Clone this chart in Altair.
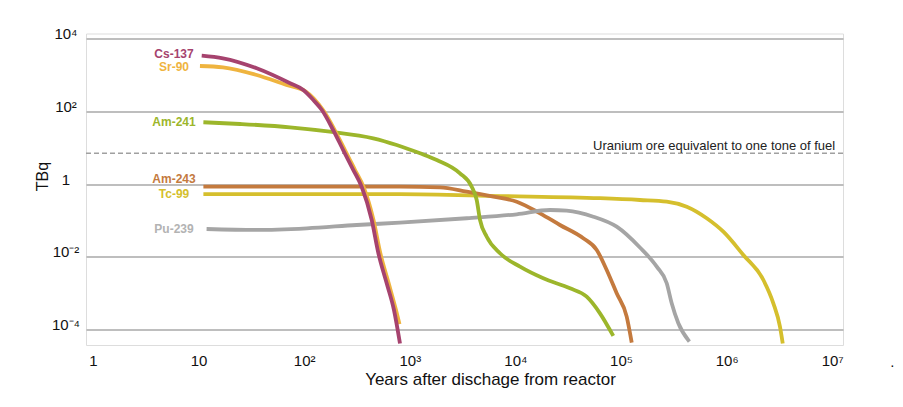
import json
import altair as alt
import pandas as pd

# ---------------- data ----------------
cs137_years = [10.7, 17, 35.5, 73.5, 98, 122, 147, 188, 234, 292, 350, 436, 504, 604, 708, 807]
cs137_tbq = [3450, 2920, 1550, 600, 392, 208, 110, 31, 8.7, 2.45, 0.85, 0.103, 0.0125, 0.00186, 0.000342, 0.000041]

sr90_years = [10.3, 17, 35.5, 68, 102, 151, 243, 303, 364, 453, 526, 631, 740, 798]
sr90_tbq = [1795, 1650, 1015, 538, 368, 110, 8.7, 2.45, 0.85, 0.103, 0.0125, 0.00186, 0.000342, 0.00014]

am241_years = [11.1, 24.7, 73.4, 175, 451, 751, 1250, 1800, 2985, 3855, 4300, 4625, 5350, 7140,
               11060, 18370, 32900, 47300, 63200, 84500]
am241_tbq = [50.6, 45.4, 36.8, 27.9, 18.3, 12.0, 7.08, 4.63, 1.99, 0.851, 0.366, 0.103, 0.0357, 0.0125,
             0.00533, 0.00255, 0.00135, 0.000796, 0.000277, 0.000066]

am243_years = [11.1, 100, 807, 1930, 3460, 6180, 10290, 17100, 26400, 43900, 58900, 73200, 91000, 113200, 126300]
am243_tbq = [0.851, 0.851, 0.851, 0.82, 0.62, 0.451, 0.329, 0.157, 0.075, 0.0323, 0.0154, 0.00433, 0.000986,
             0.000224, 0.000043]

tc99_years = [11.1, 807, 7140, 63200, 151000, 271000, 419000, 648000, 931000, 1440000, 2230000, 2770000,
              3200000, 3400000]
tc99_tbq = [0.53, 0.53, 0.47, 0.41, 0.366, 0.329, 0.239, 0.115, 0.049, 0.0112, 0.00229, 0.000522, 0.000119,
            0.000041]

pu239_years = [11.9, 35.5, 106, 314, 807, 3460, 10290, 21300, 30600, 54700, 91000, 151000, 218000, 271000,
               302000, 349000, 444000]
pu239_tbq = [0.0582, 0.0547, 0.0608, 0.075, 0.0868, 0.115, 0.148, 0.194, 0.186, 0.127, 0.0673, 0.018,
             0.00533, 0.00186, 0.000523, 0.000147, 0.000046]

ore_level = [7.1]
ore_label = ["Uranium ore equivalent to one tone of fuel"]

x_tick_values = [1, 10, 100, 1000, 1e4, 1e5, 1e6, 1e7]
x_tick_labels = ["1", "10", "10²", "10³", "10⁴", "10⁵", "10⁶", "10⁷"]
y_tick_values = [1e-4, 1e-2, 1, 1e2, 1e4]
y_tick_labels = ["10⁻⁴", "10⁻²", "1", "10²", "10⁴"]

# drawing order: bottom -> top
isotopes = ["Tc-99", "Am-243", "Pu-239", "Am-241", "Sr-90", "Cs-137"]
series = {
    "Cs-137": (cs137_years, cs137_tbq),
    "Sr-90": (sr90_years, sr90_tbq),
    "Am-241": (am241_years, am241_tbq),
    "Am-243": (am243_years, am243_tbq),
    "Tc-99": (tc99_years, tc99_tbq),
    "Pu-239": (pu239_years, pu239_tbq),
}
line_colors = {
    "Cs-137": "#a6436e",
    "Sr-90": "#efb43f",
    "Am-241": "#9cb62b",
    "Am-243": "#c47a3e",
    "Tc-99": "#d5bf2d",
    "Pu-239": "#a5a5a5",
}
label_colors = dict(line_colors, **{"Pu-239": "#b3b3b3"})
label_dy = {"Cs-137": -1.5, "Sr-90": 1.5, "Am-243": -7.5}

rows = []
for name in isotopes:
    yrs, vals = series[name]
    for t, v in zip(yrs, vals):
        rows.append({"isotope": name, "years": t, "tbq": v})
df = pd.DataFrame(rows)

first = pd.DataFrame([{"isotope": n, "tbq": series[n][1][0]} for n in isotopes])

# ---------------- scales & axes ----------------
FONT = "Arial, Liberation Sans, sans-serif"
x_scale = alt.Scale(type="log", domain=[0.8584, 1.265e7], nice=False)
y_scale = alt.Scale(type="log", domain=[3.715e-5, 1.409e4], nice=False)

x_expr = json.dumps(x_tick_labels, ensure_ascii=False) + "[round(log(datum.value)/LN10)]"
y_expr = json.dumps(y_tick_labels, ensure_ascii=False) + "[round(log(datum.value)/LN10/2)+2]"

x_axis = alt.Axis(
    values=x_tick_values, labelExpr=x_expr, grid=False, domain=False, ticks=False, tickSize=0,
    labelFont=FONT, labelFontSize=15, labelColor="#111111", labelPadding=8,
    labelAlign="center", labelBaseline="top", labelFlush=False,
    title="Years after dischage from reactor", titleFont=FONT, titleFontSize=17,
    titleFontWeight="normal", titleColor="#111111", titleX=404, titleY=39,
    titleAlign="center", titleBaseline="alphabetic",
)
y_axis = alt.Axis(
    values=y_tick_values, labelExpr=y_expr, grid=True, gridColor="#a9a9a9", gridWidth=1.5,
    domain=False, ticks=False, tickSize=0,
    labelFont=FONT, labelFontSize=15, labelColor="#111111", labelPadding=20.5,
    labelAlign="center", labelBaseline="middle", labelOffset=-5, labelFlush=False,
    title="TBq", titleFont=FONT, titleFontSize=16, titleFontWeight="normal", titleColor="#111111",
    titleAngle=-90, titleX=-38.5, titleY=142.5, titleAlign="center", titleBaseline="alphabetic",
)

X = alt.X("years:Q", scale=x_scale, axis=x_axis)
Y = alt.Y("tbq:Q", scale=y_scale, axis=y_axis)

layers = []

# dashed reference line
ore_df = pd.DataFrame({"tbq": ore_level, "label": ore_label})
layers.append(
    alt.Chart(ore_df).mark_rule(color="#a0a0a0", strokeWidth=1.5, strokeDash=[5, 3]).encode(y=Y)
)
layers.append(
    alt.Chart(ore_df).mark_text(align="right", baseline="alphabetic", dx=3, dy=-3.5,
                                font=FONT, fontSize=13, color="#222222")
    .encode(x=alt.datum(1e7, scale=x_scale), y=Y, text="label:N")
)

# decay curves
for name in isotopes:
    layers.append(
        alt.Chart(df).transform_filter(alt.datum.isotope == name)
        .mark_line(color=line_colors[name], strokeWidth=3.8, interpolate="monotone", strokeCap="butt")
        .encode(x=X, y=Y)
    )

# curve labels
for name in isotopes:
    layers.append(
        alt.Chart(first).transform_filter(alt.datum.isotope == name)
        .mark_text(align="center", baseline="middle", dy=label_dy.get(name, 0), font=FONT, fontSize=12,
                   fontWeight="bold", color=label_colors[name])
        .encode(x=alt.datum(5.85, scale=x_scale), y=Y, text="isotope:N")
    )

# stray period at the right end of the x labels
layers.append(
    alt.Chart(pd.DataFrame({"t": ["."]})).mark_text(align="center", baseline="middle",
                                                     font=FONT, fontSize=15, color="#111111")
    .encode(x=alt.datum(3.7e7, scale=x_scale), y=alt.datum(1.3e-5, scale=y_scale), text="t:N")
)

chart = (
    alt.layer(*layers)
    .properties(width=757, height=311.5,
                autosize=alt.AutoSizeParams(type="none"),
                padding={"left": 78, "top": 25.5, "right": 52, "bottom": 60})
    .configure_view(stroke="transparent")
    .configure(background="white")
)

chart.save("out.html", embed_options={"renderer": "svg", "actions": False})
